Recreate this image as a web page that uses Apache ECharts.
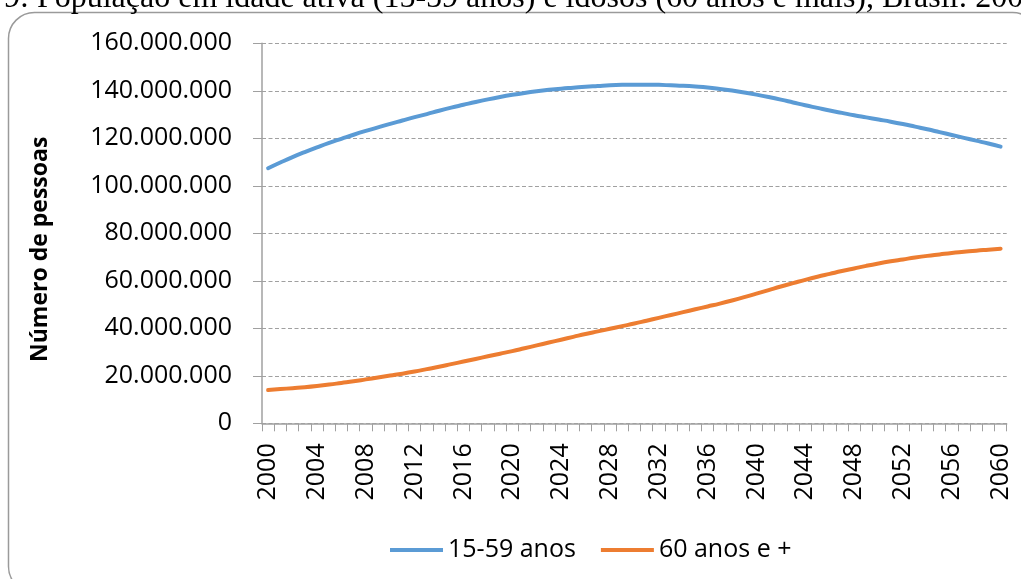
<!DOCTYPE html>
<html>
<head>
<meta charset="utf-8">
<style>
html,body{margin:0;padding:0;background:#fff;overflow:hidden;}
#chart{width:1021px;height:579px;}
</style>
<script src="https://cdn.jsdelivr.net/npm/echarts@6/dist/echarts.min.js"></script>
</head>
<body>
<div id="chart"></div>
<script>
const years = ['2000','2001','2002','2003','2004','2005','2006','2007','2008','2009',
'2010','2011','2012','2013','2014','2015','2016','2017','2018','2019',
'2020','2021','2022','2023','2024','2025','2026','2027','2028','2029',
'2030','2031','2032','2033','2034','2035','2036','2037','2038','2039',
'2040','2041','2042','2043','2044','2045','2046','2047','2048','2049',
'2050','2051','2052','2053','2054','2055','2056','2057','2058','2059','2060'];

// millions of people
const ativa = [107.4,109.8,112.1,114.2,116.2,118.1,119.8,121.5,123.1,124.6,
126.1,127.5,128.9,130.2,131.6,132.9,134.1,135.3,136.4,137.4,
138.3,139.1,139.8,140.4,140.9,141.3,141.7,142.0,142.3,142.5,
142.6,142.6,142.5,142.3,142.1,141.8,141.4,140.8,140.1,139.3,
138.4,137.4,136.3,135.1,133.9,132.8,131.7,130.7,129.7,128.8,
127.9,127.0,126.0,124.9,123.8,122.6,121.4,120.2,119.0,117.8,116.5];

const idosos = [14.0,14.4,14.8,15.2,15.7,16.3,17.0,17.7,18.5,19.3,
20.1,20.9,21.8,22.8,23.8,24.9,26.0,27.1,28.2,29.3,
30.4,31.6,32.8,34.0,35.2,36.4,37.6,38.7,39.8,40.9,
42.0,43.2,44.4,45.6,46.8,48.0,49.2,50.4,51.7,53.1,
54.6,56.1,57.6,59.0,60.4,61.7,62.9,64.1,65.2,66.3,
67.3,68.2,69.0,69.8,70.5,71.1,71.7,72.2,72.7,73.1,73.5];

const seriesNames = ['15-59 anos', '60 anos e +'];
const titleText = '9: População em idade ativa (15-59 anos) e idosos (60 anos e mais), Brasil: 2000-2060';

function fmt(v){
  return String(Math.round(v)).replace(/\B(?=(\d{3})+(?!\d))/g, '.');
}

const chart = echarts.init(document.getElementById('chart'), null, {renderer:'canvas'});
const font = '"Open Sans", "DejaVu Sans", sans-serif';
chart.setOption({
  animation:false,
  backgroundColor:'#fff',
  graphic:[
    {type:'rect', shape:{x:8.5,y:12.5,width:1030,height:580,r:26},
     style:{fill:'none',stroke:'#9a9a9a',lineWidth:1.5}, z:-1},
    {type:'text', x:4, y:-1, style:{text:titleText, font:'32px "Liberation Serif", "Times New Roman", serif',
      fill:'#000', align:'left', verticalAlign:'middle'}}
  ],
  grid:{left:262, top:43.3, width:744.7, height:380, containLabel:false},
  legend:{
    data:seriesNames.map(n=>({name:n, icon:'rect'})),
    left:385, top:532.5, itemWidth:53, itemHeight:4, itemGap:25,
    textStyle:{fontFamily:font, fontSize:25, color:'#000'}
  },
  xAxis:{
    type:'category', data:years, boundaryGap:true,
    axisLine:{show:true, lineStyle:{color:'#a0a0a0', width:1.5}},
    axisTick:{show:true, interval:0, length:8, lineStyle:{color:'#a0a0a0', width:1}},
    axisLabel:{interval:3, rotate:90, margin:20, fontFamily:font, fontSize:25, color:'#000'},
    splitLine:{show:false}
  },
  yAxis:{
    type:'value', min:0, max:160000000, interval:20000000,
    name:'Número de pessoas', nameLocation:'middle', nameRotate:90, nameGap:210,
    nameTextStyle:{fontFamily:font, fontSize:23, fontWeight:'bold', color:'#000', padding:[0,32,0,0]},
    axisLine:{show:true, lineStyle:{color:'#a0a0a0', width:1.5}},
    axisTick:{show:true, length:9, lineStyle:{color:'#a0a0a0', width:1}},
    axisLabel:{margin:30, fontFamily:font, fontSize:25, color:'#000', formatter:fmt},
    splitLine:{show:true, lineStyle:{color:'#a0a0a0', width:1.2, type:[4,2.5]}}
  },
  series:[
    {name:seriesNames[0], type:'line', data:ativa.map(v=>v*1e6), symbol:'none', smooth:true,
     lineStyle:{color:'#5B9BD5', width:4, cap:'round'}, itemStyle:{color:'#5B9BD5'}},
    {name:seriesNames[1], type:'line', data:idosos.map(v=>v*1e6), symbol:'none', smooth:true,
     lineStyle:{color:'#ED7D31', width:4, cap:'round'}, itemStyle:{color:'#ED7D31'}}
  ]
});
</script>
</body>
</html>
